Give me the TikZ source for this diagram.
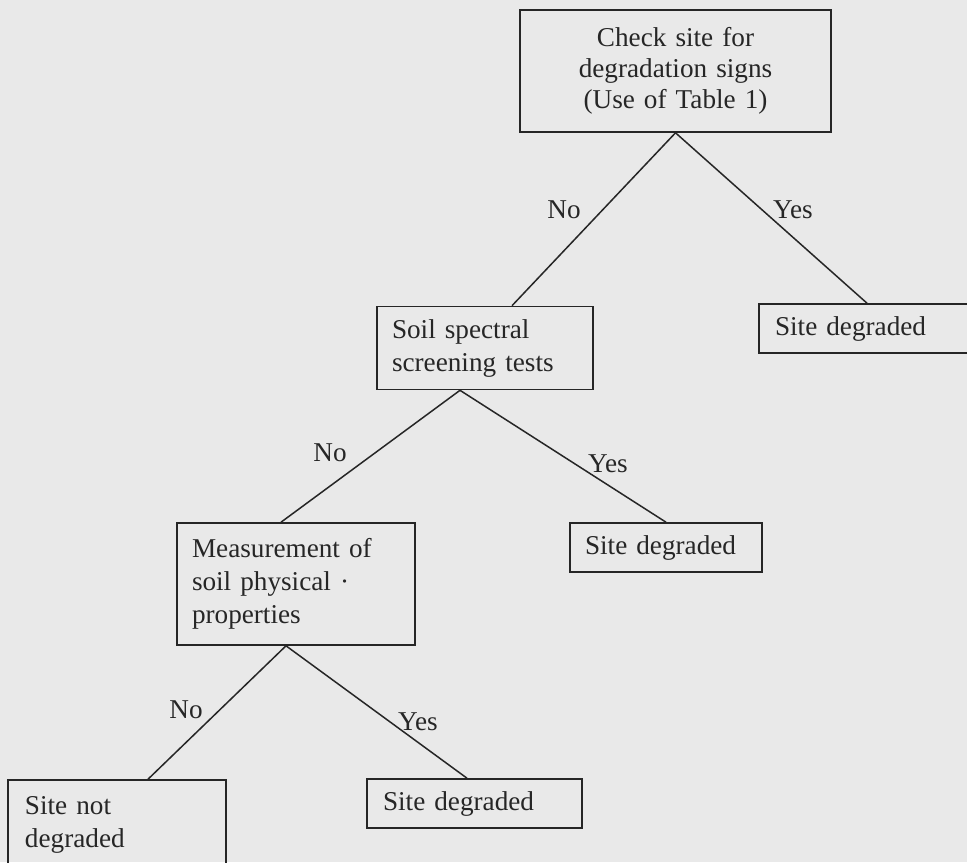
\documentclass[tikz,border=0pt]{standalone}
\usepackage{fontspec}
\usepackage{tikz}
\newfontfamily\treefont{Liberation Serif}
\definecolor{scanbg}{RGB}{233,233,233}
\definecolor{ink}{RGB}{38,38,38}
\tikzset{
    box/.style={draw=ink, line width=0.8pt, rectangle, align=left, text=ink,
        font=\treefont\fontsize{13.6pt}{16.5pt}\selectfont},
    branch/.style={draw=ink, line width=0.75pt},
    answer/.style={text=ink, inner sep=0pt, font=\treefont\fontsize{13.6pt}{16.5pt}\selectfont}
}

\begin{document}
\begin{tikzpicture}[x=0.5pt, y=-0.5pt]
        \useasboundingbox (0,0) rectangle (967,862);
        \fill[scanbg] (0,0) rectangle (967,862);
        \clip (0,0) rectangle (967,862);

        % boxes
        \node[box, align=center, text width=140pt, inner xsep=7.75pt, minimum height=61pt,
            font=\treefont\fontsize{13.6pt}{15.5pt}\selectfont] (check) at (675.5,71)
            {Check site for\\degradation signs\\(Use of Table 1)};
        \node[box, text width=93pt, inner xsep=7.5pt, minimum height=41.5pt] (soil) at (485,348)
            {Soil spectral\\screening tests};
        \node[box, text width=92pt, inner xsep=8pt, minimum height=24.5pt] (degradedA) at (867,328.5)
            {Site degraded};
        \node[box, text width=104pt, inner xsep=7.5pt, minimum height=61pt] (measure) at (296,584)
            {Measurement of\\soil physical ·\\properties};
        \node[box, text width=81pt, inner xsep=7.5pt, minimum height=24.5pt] (degradedB) at (666,547.5)
            {Site degraded};
        \node[box, text width=92pt, inner xsep=8.5pt, minimum height=45pt] (notdegraded) at (117,825)
            {Site not\\degraded};
        \node[box, text width=91.5pt, inner xsep=8pt, minimum height=24.5pt] (degradedC) at (474.5,803.5)
            {Site degraded};

        % lines
        \draw[branch] (check.south) -- ([xshift=13.5pt]soil.north);
        \draw[branch] (check.south) -- (degradedA.north);
        \draw[branch] ([xshift=-12.5pt]soil.south) -- ([xshift=-7.5pt]measure.north);
        \draw[branch] ([xshift=-12.5pt]soil.south) -- (degradedB.north);
        \draw[branch] ([xshift=-5pt]measure.south) -- ([xshift=15.5pt]notdegraded.north);
        \draw[branch] ([xshift=-5pt]measure.south) -- ([xshift=-3.75pt]degradedC.north);

        % answers
        \node[answer] (noA) at (564,210) {No};
        \node[answer] (yesA) at (793,210) {Yes};
        \node[answer] (noB) at (330,453) {No};
        \node[answer] (yesB) at (608,464) {Yes};
        \node[answer] (noC) at (186,710) {No};
        \node[answer] (yesC) at (418,722) {Yes};
    \end{tikzpicture}
\end{document}
